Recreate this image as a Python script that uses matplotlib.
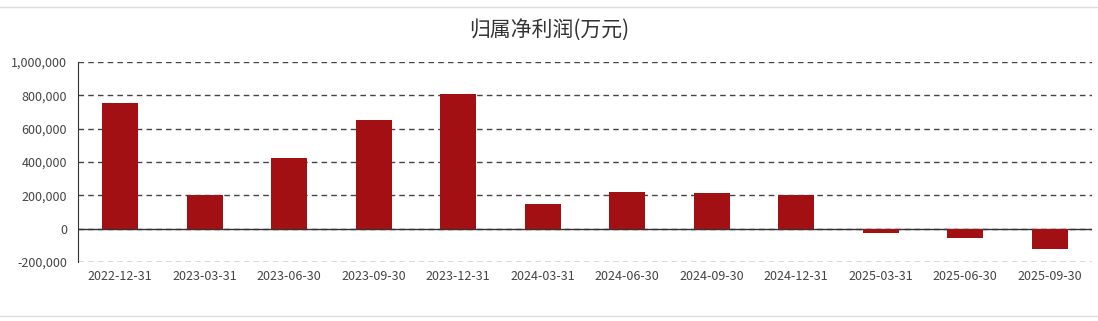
import matplotlib
matplotlib.use("Agg")
import matplotlib.pyplot as plt
from matplotlib.ticker import FuncFormatter

plt.rcParams['font.family'] = ['Noto Sans CJK SC', 'DejaVu Sans']

# 报告期与归属净利润(万元)
dates = ['2022-12-31', '2023-03-31', '2023-06-30', '2023-09-30',
         '2023-12-31', '2024-03-31', '2024-06-30', '2024-09-30',
         '2024-12-31', '2025-03-31', '2025-06-30', '2025-09-30']
profit = [756000, 204000, 426000, 654000,
          810000, 150000, 222000, 212000,
          202000, -28000, -58000, -120000]
yticks = [-200000, 0, 200000, 400000, 600000, 800000, 1000000]

fig = plt.figure(figsize=(10.98, 3.21), dpi=100)
ax = fig.add_axes([78 / 1098, 1 - 262 / 321, (1092 - 78) / 1098, 200 / 321])

ax.bar(range(len(dates)), profit, width=0.43, color='#a31014', zorder=3)

ax.set_xlim(-0.5, len(dates) - 0.5)
ax.set_ylim(yticks[0], yticks[-1])
ax.set_yticks(yticks)
ax.yaxis.set_major_formatter(FuncFormatter(lambda v, p: f'{int(v):,}'))
ax.set_xticks(range(len(dates)))
ax.set_xticklabels(dates)
ax.tick_params(length=0, labelsize=9, colors='#444444', pad=6)
ax.tick_params(axis='y', pad=8)

ax.grid(axis='y', linestyle=(0, (4, 3)), color='#444444', linewidth=1, zorder=1)
ax.axhline(0, color='#333333', linewidth=1, zorder=2)
for side in ['top', 'right', 'bottom']:
    ax.spines[side].set_visible(False)
ax.spines['left'].set_color('#333333')

fig.text(0.5, 1 - 31 / 321, '归属净利润(万元)', ha='center', va='center',
         fontsize=15, color='#333333')

# 上下分隔线
fig.add_artist(plt.Line2D([0, 1], [1 - 7 / 321] * 2, color='#dddddd', linewidth=1))
fig.add_artist(plt.Line2D([0, 1], [1 - 316 / 321] * 2, color='#dddddd', linewidth=1))

fig.savefig('out.png', dpi=100)
